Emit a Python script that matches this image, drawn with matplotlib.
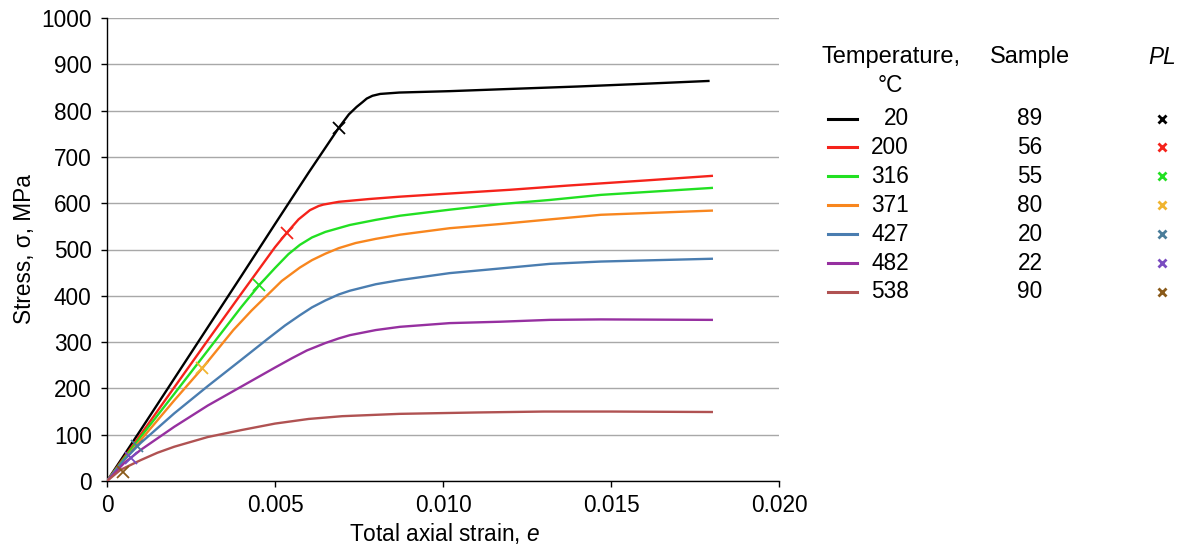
import matplotlib
matplotlib.use("Agg")
import matplotlib.pyplot as plt
from matplotlib.lines import Line2D

plt.rcParams['font.family'] = ['Liberation Sans', 'DejaVu Sans']
plt.rcParams['mathtext.fontset'] = 'custom'
plt.rcParams['mathtext.it'] = 'Liberation Sans:italic'
plt.rcParams['mathtext.rm'] = 'Liberation Sans'

# stress-strain curves, strain [-] and stress [MPa]
strain_20 = [0, 0.0010, 0.0020, 0.0030, 0.0040, 0.0050, 0.0060, 0.0069, 0.0072, 0.00743,
             0.0076, 0.00773, 0.0079, 0.00813, 0.0087, 0.0102, 0.0117, 0.014, 0.016, 0.0179]
stress_20 = [0, 110, 221, 332, 443, 555, 666, 763, 792, 808, 818, 826, 832, 836, 839, 842,
             846, 852, 858, 864]

strain_200 = [0, 0.001, 0.002, 0.003, 0.004, 0.005, 0.00535, 0.0057, 0.00604, 0.0063, 0.00644,
              0.0069, 0.0078, 0.0087, 0.010, 0.012, 0.0137, 0.016, 0.018]
stress_200 = [0, 100, 202, 304, 405, 505, 536, 565, 585, 594, 597, 603, 609, 614, 620, 629,
              638, 649, 659]

strain_316 = [0, 0.001, 0.002, 0.003, 0.004, 0.00453, 0.0050, 0.0054, 0.00574, 0.0061, 0.0065,
              0.00723, 0.0080, 0.00872, 0.0102, 0.0117, 0.01318, 0.0147, 0.018]
stress_316 = [0, 95, 188, 282, 376, 423, 460, 490, 510, 526, 538, 553, 564, 573, 586, 598,
              607, 618, 633]

strain_371 = [0, 0.001, 0.002, 0.00283, 0.00376, 0.0043, 0.00475, 0.0052, 0.00574, 0.0061,
              0.0065, 0.0069, 0.0074, 0.0080, 0.00872, 0.0102, 0.0117, 0.01318, 0.0147, 0.018]
stress_371 = [0, 88, 174, 243, 326, 368, 400, 432, 461, 477, 491, 503, 514, 523, 532, 546,
              555, 565, 575, 584]

strain_427 = [0, 0.0005, 0.001, 0.002, 0.003, 0.004, 0.0048, 0.0053, 0.00574, 0.0061, 0.0065,
              0.0069, 0.00723, 0.008, 0.00872, 0.0102, 0.0117, 0.01318, 0.0147, 0.018]
stress_427 = [0, 45, 82, 146, 205, 262, 308, 336, 358, 375, 390, 403, 411, 425, 434, 449,
              459, 469, 474, 480]

strain_482 = [0, 0.0005, 0.001, 0.002, 0.003, 0.004, 0.005, 0.0055, 0.00595, 0.0065, 0.0069,
              0.00723, 0.008, 0.00872, 0.0102, 0.0117, 0.01318, 0.0147, 0.018]
stress_482 = [0, 38, 67, 117, 163, 204, 245, 265, 282, 298, 308, 315, 326, 333, 341, 344,
              348, 349, 348]

strain_538 = [0, 0.0004, 0.001, 0.0015, 0.002, 0.003, 0.004, 0.005, 0.006, 0.007, 0.0087,
              0.011, 0.013, 0.015, 0.018]
stress_538 = [0, 24, 45, 61, 74, 95, 110, 124, 134, 140, 145, 148, 150, 150, 149]

# proportional limit points
pl_strain = [0.00691, 0.00535, 0.00453, 0.00283, 0.0009, 0.00072, 0.00049]
pl_stress = [763, 536, 423, 243, 75, 50, 20]

temps = ['20', '200', '316', '371', '427', '482', '538']
samples = ['89', '56', '55', '80', '20', '22', '90']
line_colors = ['#000000', '#f5231b', '#22e022', '#f8861e', '#4a7db0', '#9630a0', '#b05252']
pl_colors = ['#000000', '#f5231b', '#22e022', '#f0b530', '#4a7d9a', '#7a4cc0', '#8a5a1a']

curves = [(strain_20, stress_20), (strain_200, stress_200), (strain_316, stress_316),
          (strain_371, stress_371), (strain_427, stress_427), (strain_482, stress_482),
          (strain_538, stress_538)]

W, H = 1183, 550
fs = 16.3
fig = plt.figure(figsize=(W / 100, H / 100), dpi=100)
ax = fig.add_axes([107 / W, 1 - 481 / H, (779 - 107) / W, (481 - 18) / H])

for (sx, sy), c in zip(curves, line_colors):
    ax.plot(sx, sy, color=c, lw=1.7, solid_joinstyle='round', zorder=3)
for x, y, c in zip(pl_strain, pl_stress, pl_colors):
    ax.plot(x, y, marker='x', ms=8, mew=1.3, color=c, ls='none', zorder=4)

ax.set_xlim(0, 0.020)
ax.set_ylim(0, 1000)
ax.set_xticks([0, 0.005, 0.010, 0.015, 0.020])
ax.set_xticklabels(['0', '0.005', '0.010', '0.015', '0.020'])
ax.set_yticks(range(0, 1001, 100))
ax.yaxis.grid(True, color='#a8a8a8', lw=1.0)
ax.set_axisbelow(True)
ax.spines['top'].set_visible(False)
ax.spines['right'].set_visible(False)
for s in ('left', 'bottom'):
    ax.spines[s].set_linewidth(1.0)
ax.tick_params(labelsize=fs, length=4, width=1, direction='out')
ax.tick_params(axis='y', pad=7)
ax.tick_params(axis='x', pad=5)
ax.set_xlabel('Total axial strain, $\\it{e}$', fontsize=fs, va='center')
ax.set_ylabel('Stress, σ, MPa', fontsize=fs, va='center')
ax.xaxis.set_label_coords(0.503, (481 - 534) / 463)
ax.yaxis.set_label_coords((25 - 107) / 672, 0.5)

# table-style legend
def fx(px):
    return px / W
def fy(py):
    return 1 - py / H

fig.text(fx(891), fy(57), 'Temperature,', fontsize=fs + 0.7, ha='center', va='center')
fig.text(fx(890), fy(85), '°C', fontsize=fs, ha='center', va='center')
fig.text(fx(1030), fy(57), 'Sample', fontsize=fs + 0.7, ha='center', va='center')
fig.text(fx(1162), fy(57), 'PL', fontsize=fs, ha='center', va='center', style='italic')

for i, (t, s) in enumerate(zip(temps, samples)):
    py = 118.5 + i * 28.9
    fig.add_artist(Line2D([fx(828), fx(857)], [fy(py), fy(py)], color=line_colors[i], lw=2.2))
    fig.text(fx(909), fy(py), t, fontsize=fs, ha='right', va='center')
    fig.text(fx(1030), fy(py), s, fontsize=fs, ha='center', va='center')
    fig.add_artist(Line2D([fx(1162)], [fy(py)], marker='x', ms=6, mew=2,
                          color=pl_colors[i], ls='none'))

fig.savefig('out.png', dpi=100)
